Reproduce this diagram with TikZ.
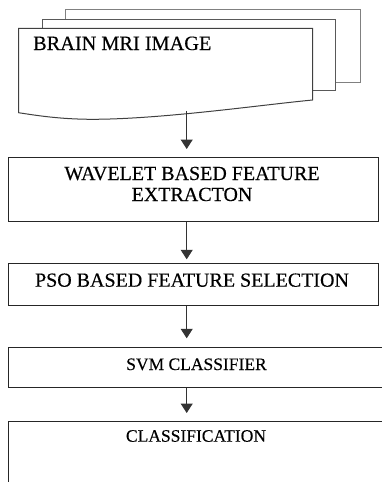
\documentclass[tikz,border=0pt]{standalone}
\usepackage{fontspec}
\setmainfont[FakeBold=0.3]{Liberation Serif}
\usetikzlibrary{arrows.meta}

\tikzset{
  sheet/.style={fill=white, line width=1pt},
  stage/.style={draw=black!85, line width=1.1pt, fill=white, inner sep=0pt, anchor=north west},
  flow/.style={draw=black!80, line width=1pt, -{Triangle[width=12pt,length=9.5pt]}},
  bigtext/.style={anchor=base, inner sep=0pt, font=\fontsize{20}{21}\selectfont},
  smalltext/.style={anchor=base, inner sep=0pt, font=\fontsize{17.5}{19}\selectfont}
}

\begin{document}
\begin{tikzpicture}[x=1pt, y=-1pt]
\useasboundingbox (0,0) rectangle (381,482);

% stacked pages of the input document
\draw[sheet, draw=black!50] (65,9.3) rectangle (360.7,82);
\draw[sheet, draw=black!65] (42,19.3) rectangle (335,90.7);
\draw[sheet, draw=black!75] (18.5,28.3) -- (312.7,28.3) -- (312.7,100)
  .. controls (260,105) and (160,119.5) .. (90,119.3)
  .. controls (60,119) and (40,116) .. (18.5,112.7) -- cycle;
\coordinate (docout) at (186.7,110.8);
\node[anchor=base west, inner sep=0pt, font=\fontsize{20.3}{21}\selectfont] (tin) at (33,50) {BRAIN MRI IMAGE};

% processing stages
\node[stage, minimum width=370pt, minimum height=64pt] (wave) at (8.3,156.7) {};
\node[stage, minimum width=370pt, minimum height=42pt] (pso) at (8.3,262.5) {};
\node[stage, minimum width=378pt, minimum height=40pt] (svm) at (8.3,347.3) {};
\node[stage, minimum width=378pt, minimum height=80pt] (cls) at (8.3,420.7) {};

\node[bigtext] (t1a) at (192,180) {WAVELET BASED FEATURE};
\node[bigtext] (t1b) at (192,201) {EXTRACTON};
\node[bigtext] (t2) at (192,286.7) {PSO BASED FEATURE SELECTION};
\node[smalltext] (t3) at (196.5,370) {SVM CLASSIFIER};
\node[smalltext] (t4) at (196,441.7) {CLASSIFICATION};

% connectors
\draw[flow, shorten >=7.7pt] (docout) -- (docout |- wave.north);
\draw[flow, shorten >=3.2pt] (docout |- wave.south) -- (docout |- pso.north);
\draw[flow, shorten >=9pt] (docout |- pso.south) -- (docout |- svm.north);
\draw[flow, shorten >=7.7pt] (docout |- svm.south) -- (docout |- cls.north);
\end{tikzpicture}
\end{document}
